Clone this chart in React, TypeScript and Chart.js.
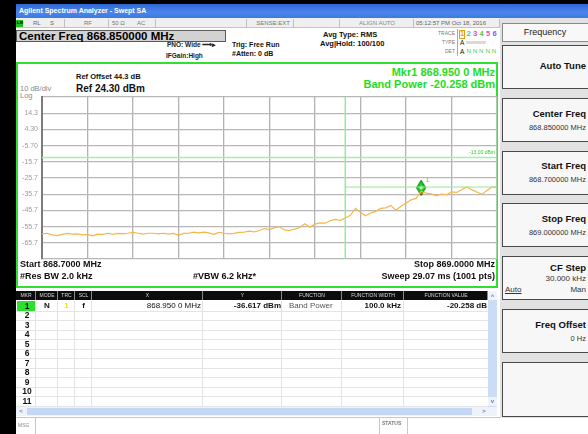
import React, { useEffect, useRef } from 'react';
import { Chart, registerables } from 'chart.js';

Chart.register(...registerables);

const FONT = '"Liberation Sans", Arial, Helvetica, sans-serif';

// Sweep settings
const startMHz = 868.7;
const stopMHz = 869.0;
const gridDivisions = 10;

// Amplitude axis (10 dB/div, Ref 24.30 dBm)
const refLevelDbm = 24.3;
const bottomLevelDbm = -75.7;
const yTickValues = [24.3, 14.3, 4.3, -5.7, -15.7, -25.7, -35.7, -45.7, -55.7, -65.7, -75.7];
const yTickLabels = ['', '14.3', '4.30', '-5.70', '-15.7', '-25.7', '-35.7', '-45.7', '-55.7', '-65.7', ''];

// Trace 1 (RMS average), equally spaced sweep points from start to stop
const traceDbm = [
  -60.2, -59.8, -60.8, -61.3, -60.5, -59.9, -60.4, -60.2, -60.8, -60.5,
  -61.4, -60.4, -60.5, -59.8, -60.5, -59.9, -60.2, -59.8, -59.3, -59.8,
  -60.4, -59.8, -59.8, -60.2, -59.8, -60.4, -59.9, -61.0, -59.9, -59.8,
  -59.1, -59.6, -59.1, -59.6, -60.5, -59.3, -59.8, -60.2, -59.9, -59.3,
  -59.1, -58.5, -59.0, -58.1, -56.9, -57.5, -56.3, -55.8, -57.9, -58.1,
  -57.3, -56.3, -54.0, -56.1, -54.2, -53.4, -53.6, -52.1, -51.2, -51.8,
  -50.4, -48.7, -44.4, -46.9, -49.0, -47.3, -46.3, -44.4, -44.1, -42.6,
  -45.6, -43.2, -41.3, -39.2, -38.3, -34.0, -35.0, -35.5, -36.7, -35.6,
  -36.0, -34.3, -34.6, -32.9, -31.2, -32.9, -34.3, -35.8, -33.4, -31.3,
  -31.3,
];

// Display line
const displayLineDbm = -13.0;
const displayLineLabel = '-13.00 dBm';

// Marker 1, band power function
const markerFreqMHz = 868.95;
const markerDbm = -36.617;
const markerLabel = '1';
const bandWidthKHz = 100;
const bandLevelDbm = -31.3;

// Marker table
const tableHeaders = ['MKR', 'MODE', 'TRC', 'SCL', 'X', 'Y', 'FUNCTION', 'FUNCTION WIDTH', 'FUNCTION VALUE'];
const markerNumbers = ['1', '2', '3', '4', '5', '6', '7', '8', '9', '10', '11'];

// Softkeys
const softkeys = [
  { label: 'Auto Tune', value: '' },
  { label: 'Center Freq', value: '868.850000 MHz' },
  { label: 'Start Freq', value: '868.700000 MHz' },
  { label: 'Stop Freq', value: '869.000000 MHz' },
  { label: 'CF Step', value: '30.000 kHz' },
  { label: 'Freq Offset', value: '0 Hz' },
  { label: '', value: '' },
];

const traceColors = ['#f0a000', '#2fc3ec', '#e040e0', '#3fcf3f', '#e050c8', '#7c5cf2'];

type TProps = {
  x: number;
  y: number;
  s: number;
  b?: boolean;
  c?: string;
  align?: 'left' | 'right' | 'center';
  children?: React.ReactNode;
  extra?: React.CSSProperties;
};

function T({ x, y, s, b, c, align = 'left', children, extra }: TProps) {
  const style: React.CSSProperties = {
    position: 'absolute',
    top: y - s * 0.55,
    fontSize: s,
    lineHeight: `${s * 1.1}px`,
    fontWeight: b ? 'bold' : 'normal',
    color: c || '#000',
    whiteSpace: 'nowrap',
    fontFamily: FONT,
    ...extra,
  };
  if (align === 'right') style.right = 588 - x;
  else if (align === 'center') {
    style.left = x;
    style.transform = 'translateX(-50%)';
  } else style.left = x;
  return <div style={style}>{children}</div>;
}

function Box({ x, y, w, h, style }: { x: number; y: number; w: number; h: number; style?: React.CSSProperties }) {
  return <div style={{ position: 'absolute', left: x, top: y, width: w, height: h, boxSizing: 'border-box', ...style }} />;
}

function makeDiamond(): HTMLCanvasElement {
  const c = document.createElement('canvas');
  c.width = 10;
  c.height = 32;
  const g = c.getContext('2d')!;
  g.beginPath();
  g.moveTo(5, 0.5);
  g.lineTo(9.5, 8);
  g.lineTo(5, 15.8);
  g.lineTo(0.5, 8);
  g.closePath();
  g.fillStyle = '#22cc22';
  g.fill();
  g.lineWidth = 1;
  g.strokeStyle = '#0d6e0d';
  g.stroke();
  g.beginPath();
  g.arc(5, 8, 1.6, 0, Math.PI * 2);
  g.fillStyle = '#ffffff';
  g.fill();
  return c;
}

function SpectrumPlot() {
  const ref = useRef<HTMLCanvasElement | null>(null);

  useEffect(() => {
    if (!ref.current) return;
    const step = (stopMHz - startMHz) / (traceDbm.length - 1);
    const traceData = traceDbm.map((v, i) => ({ x: startMHz + i * step, y: v }));
    const bandStart = markerFreqMHz - bandWidthKHz / 2000;
    const bandStop = markerFreqMHz + bandWidthKHz / 2000;
    const xGrid = Array.from({ length: gridDivisions + 1 }, (_, i) => ({
      value: startMHz + (i * (stopMHz - startMHz)) / gridDivisions,
    }));

    const labelFor = (v: number) => {
      const idx = yTickValues.findIndex((t) => Math.abs(t - v) < 1e-6);
      return idx >= 0 ? yTickLabels[idx] : '';
    };

    const overlayText = {
      id: 'overlayText',
      afterDatasetsDraw(chart: any) {
        const { ctx, scales, chartArea } = chart;
        const xs = scales.x;
        const ys = scales.y;
        ctx.save();
        ctx.font = `8px ${FONT}`;
        ctx.fillStyle = '#f0a020';
        ctx.textAlign = 'left';
        ctx.textBaseline = 'middle';
        ctx.fillText(markerLabel, xs.getPixelForValue(markerFreqMHz) + 4, ys.getPixelForValue(markerDbm) - 16);
        ctx.font = `5px ${FONT}`;
        ctx.fillStyle = '#33cc33';
        ctx.textAlign = 'right';
        ctx.textBaseline = 'bottom';
        ctx.fillText(displayLineLabel, chartArea.right - 2, ys.getPixelForValue(displayLineDbm) - 2);
        ctx.restore();
      },
    };

    const green = '#8eeb8e';
    const chart = new Chart(ref.current, {
      type: 'line',
      data: {
        datasets: [
          { label: 'Band left', data: [{ x: bandStart, y: refLevelDbm }, { x: bandStart, y: bottomLevelDbm }], borderColor: green, borderWidth: 1, pointRadius: 0 },
          { label: 'Band right', data: [{ x: bandStop, y: refLevelDbm }, { x: bandStop, y: bottomLevelDbm }], borderColor: green, borderWidth: 1.2, pointRadius: 0 },
          { label: 'Band level', data: [{ x: bandStart, y: bandLevelDbm }, { x: bandStop, y: bandLevelDbm }], borderColor: green, borderWidth: 1, pointRadius: 0 },
          { label: 'Display line', data: [{ x: startMHz, y: displayLineDbm }, { x: stopMHz, y: displayLineDbm }], borderColor: '#a4f0a4', borderWidth: 1.6, pointRadius: 0 },
          { label: 'Trace 1', data: traceData, borderColor: '#f7b548', borderWidth: 1.2, pointRadius: 0, tension: 0 },
          { label: 'Marker 1', data: [{ x: markerFreqMHz, y: markerDbm }], showLine: false, pointStyle: makeDiamond() as any, pointRadius: 8 },
        ],
      },
      options: {
        animation: false,
        responsive: false,
        devicePixelRatio: 1,
        events: [],
        layout: { padding: { top: 7, right: 2, bottom: 2, left: 0 } },
        plugins: { legend: { display: false }, tooltip: { enabled: false } },
        scales: {
          x: {
            type: 'linear',
            min: startMHz,
            max: stopMHz,
            afterBuildTicks: (axis: any) => {
              axis.ticks = xGrid;
            },
            afterFit: (axis: any) => {
              axis.height = 0;
            },
            ticks: { display: false },
            grid: { color: '#b3b3b3', lineWidth: 1.3, drawTicks: false },
            border: { display: false },
          },
          y: {
            type: 'linear',
            min: bottomLevelDbm,
            max: refLevelDbm,
            afterBuildTicks: (axis: any) => {
              axis.ticks = yTickValues.map((v) => ({ value: v }));
            },
            afterFit: (axis: any) => {
              axis.width = 26;
            },
            ticks: {
              callback: (v: any) => labelFor(Number(v)),
              color: '#9c9c9c',
              font: { size: 7, family: FONT },
              padding: 4,
              autoSkip: false,
            },
            grid: { color: '#b8b8b8', lineWidth: 1.3, drawTicks: false },
            border: { color: '#7c7c7c', width: 2 },
          },
        },
      },
      plugins: [overlayText],
    });
    return () => chart.destroy();
  }, []);

  return (
    <canvas
      ref={ref}
      width={490}
      height={180}
      style={{ position: 'absolute', left: 16, top: 87.5, width: 490, height: 180 }}
    />
  );
}

export default function App() {
  const colEdges = [16, 36, 58, 75, 92, 203, 282, 342, 404, 488];
  const rowTop = 301;
  const rowH = 9.5;

  return (
    <div
      style={{
        position: 'fixed',
        left: 0,
        top: 0,
        width: 588,
        height: 434,
        overflow: 'hidden',
        background: '#ffffff',
        fontFamily: FONT,
      }}
    >
      {/* frame */}
      <Box x={0} y={0} w={588} h={4} style={{ background: '#000' }} />
      <Box x={0} y={0} w={16} h={434} style={{ background: '#000' }} />

      {/* title bar */}
      <Box x={16} y={4} w={572} h={14} style={{ background: 'linear-gradient(#2f68d6, #4a86ea 60%, #3d79e0)' }} />
      <T x={19} y={11} s={7} b c="#ffffff">Agilent Spectrum Analyzer - Swept SA</T>

      {/* status row */}
      <Box x={16} y={18} w={484} h={10} style={{ background: '#efefef', borderBottom: '1px solid #c4c4c4' }} />
      <Box x={16} y={20} w={7} h={7} style={{ background: '#1fbf1f' }} />
      <T x={17} y={23.5} s={4} b c="#000">LXI</T>
      <T x={33} y={23.5} s={6} c="#666">RL</T>
      <T x={50} y={23.5} s={6} c="#666">S</T>
      {[64, 108, 155, 246, 293, 339, 413, 499].map((x) => (
        <Box key={x} x={x} y={19} w={1} h={9} style={{ background: '#c0c0c0' }} />
      ))}
      <T x={84} y={23.5} s={6} c="#777">RF</T>
      <T x={112} y={23.5} s={6} c="#777">50 Ω</T>
      <T x={137} y={23.5} s={6} c="#777">AC</T>
      <T x={290} y={23.5} s={6} c="#777" align="right">SENSE:EXT</T>
      <T x={377} y={23.5} s={6} c="#888" align="center">ALIGN AUTO</T>
      <T x={416} y={23.5} s={6} c="#666">05:12:57 PM Oct 18, 2016</T>

      {/* center frequency box */}
      <Box x={16} y={30} w={210} h={12} style={{ background: '#d2d2d2', border: '1px solid #5a5a5a' }} />
      <T x={19} y={36} s={11.5} b>Center Freq 868.850000 MHz</T>

      <T x={167} y={45} s={6.5} b c="#222">PNO: Wide ⟶▸</T>
      <T x={166} y={56} s={6.5} b c="#222">IFGain:High</T>
      <T x={232} y={44.5} s={7} b c="#111">Trig: Free Run</T>
      <T x={232} y={54} s={7} b c="#111">#Atten: 0 dB</T>
      <T x={323} y={35} s={7.5} b c="#111">Avg Type: RMS</T>
      <T x={320} y={44.5} s={7.5} b c="#111">Avg|Hold: 100/100</T>

      {/* trace status block */}
      <T x={455} y={34} s={5} c="#777" align="right">TRACE</T>
      <T x={455} y={43} s={5} c="#777" align="right">TYPE</T>
      <T x={455} y={51.5} s={5} c="#777" align="right">DET</T>
      <Box x={457} y={29} w={1} h={27} style={{ background: '#aaa' }} />
      <Box x={459} y={30} w={6} h={9} style={{ border: '1px solid #f0a000' }} />
      {traceColors.map((c, i) => (
        <T key={i} x={460 + i * 6.5} y={34.5} s={7.5} b c={c}>{String(i + 1)}</T>
      ))}
      <T x={460} y={43} s={6.5} c="#111">A</T>
      <T x={466} y={43} s={4.2} c="#999">WWWWW</T>
      <T x={460} y={51.5} s={6.5} c="#111">A</T>
      {[0, 1, 2, 3, 4].map((i) => (
        <T key={i} x={466.5 + i * 6.3} y={51.5} s={6} c="#3cc83c">N</T>
      ))}

      {/* plot panel */}
      <Box x={16} y={62} w={482} h={226} style={{ border: '2px solid #2fe02f', background: '#ffffff' }} />
      <T x={76} y={77} s={7.5} b c="#111">Ref Offset 44.3 dB</T>
      <T x={76} y={88} s={10} b c="#111">Ref 24.30 dBm</T>
      <T x={20} y={89} s={7.5} c="#8a8a8a">10 dB/div</T>
      <T x={20} y={96} s={7.5} c="#8a8a8a">Log</T>
      <T x={495} y={72} s={11} b c="#22dd22" align="right">Mkr1 868.950 0 MHz</T>
      <T x={495} y={84} s={11} b c="#22dd22" align="right">Band Power -20.258 dBm</T>

      <SpectrumPlot />

      <T x={20} y={265} s={9} b c="#111">Start 868.7000 MHz</T>
      <T x={20} y={277} s={9} b c="#111">#Res BW 2.0 kHz</T>
      <T x={193} y={277} s={9} b c="#111">#VBW 6.2 kHz*</T>
      <T x={495} y={265} s={9} b c="#111" align="right">Stop 869.0000 MHz</T>
      <T x={495} y={277} s={9} b c="#111" align="right">Sweep  29.07 ms (1001 pts)</T>

      {/* marker table */}
      <Box x={16} y={291} w={472} h={9} style={{ background: '#0c0c0c' }} />
      {tableHeaders.map((h, i) => (
        <React.Fragment key={h}>
          <Box x={colEdges[i + 1] - 1} y={291} w={1} h={9} style={{ background: '#8a8a8a' }} />
          <T x={(colEdges[i] + colEdges[i + 1]) / 2} y={295.5} s={5} c="#d8d8d8" align="center">{h}</T>
        </React.Fragment>
      ))}
      {markerNumbers.map((n, r) => (
        <React.Fragment key={n}>
          <Box x={16} y={rowTop + (r + 1) * rowH} w={472} h={1} style={{ background: '#e4e4e4' }} />
          {r === 0 && <Box x={17} y={rowTop} w={19} h={rowH} style={{ background: '#2de02d' }} />}
          <T x={27} y={rowTop + r * rowH + 5.5} s={8.5} b c="#111" align="center">{n}</T>
        </React.Fragment>
      ))}
      {colEdges.slice(1, -1).map((x) => (
        <Box key={x} x={x - 1} y={rowTop} w={1} h={rowH * 11} style={{ background: '#e2e2e2' }} />
      ))}
      <T x={47} y={rowTop + 5.5} s={8} b c="#111" align="center">N</T>
      <T x={66.5} y={rowTop + 5.5} s={8} b c="#e6e600" align="center">1</T>
      <T x={83.5} y={rowTop + 5.5} s={8} b c="#111" align="center">f</T>
      <T x={201} y={rowTop + 5.5} s={8} c="#111" align="right">868.950 0 MHz</T>
      <T x={281} y={rowTop + 5.5} s={8} b c="#111" align="right">-36.617 dBm</T>
      <T x={289} y={rowTop + 5.5} s={8} c="#555">Band Power</T>
      <T x={401} y={rowTop + 5.5} s={8} b c="#111" align="right">100.0 kHz</T>
      <T x={487} y={rowTop + 5.5} s={8} b c="#111" align="right">-20.258 dB</T>

      {/* scroll bars */}
      <Box x={488} y={291} w={9} h={116} style={{ background: '#cddcf5' }} />
      <Box x={488} y={291} w={9} h={9} style={{ background: '#eef3fb' }} />
      <Box x={488} y={397} w={9} h={9} style={{ background: '#eef3fb' }} />
      <T x={492.5} y={296} s={6} b c="#6a7fa8" align="center">^</T>
      <T x={492.5} y={401} s={6} b c="#6a7fa8" align="center">v</T>
      <Box x={16} y={407} w={481} h={9} style={{ background: '#eef3fb' }} />
      <Box x={27} y={408} w={445} h={7} style={{ background: '#c5d7f4' }} />
      <T x={21} y={411.5} s={6} b c="#6a7fa8" align="center">&lt;</T>
      <T x={484} y={411.5} s={6} b c="#6a7fa8" align="center">&gt;</T>

      {/* message / status row */}
      <Box x={16} y={417} w={572} h={17} style={{ background: '#ffffff', borderTop: '1px solid #c8c8c8' }} />
      <Box x={35} y={418} w={1} h={16} style={{ background: '#c8c8c8' }} />
      <Box x={379} y={418} w={1} h={16} style={{ background: '#c8c8c8' }} />
      <Box x={407} y={418} w={1} h={16} style={{ background: '#c8c8c8' }} />
      <T x={18} y={426} s={5} c="#888">MSG</T>
      <T x={382} y={424} s={5} b c="#777">STATUS</T>

      {/* softkey panel */}
      <Box x={500} y={18} w={88} h={400} style={{ background: '#e2e2e2' }} />
      <Box x={502} y={23} w={86} h={19} style={{ background: '#f8f8f8', border: '1px solid #8a8a8a', borderRight: 'none' }} />
      <T x={545} y={32.5} s={9} c="#222" align="center">Frequency</T>
      {softkeys.map((k, i) => {
        const top = 45 + i * 52.8;
        const h = i === softkeys.length - 1 ? 55 : 44;
        const hasValue = k.value !== '';
        const isStep = i === 4;
        return (
          <React.Fragment key={i}>
            <Box x={502} y={top} w={86} h={h} style={{ background: '#f7f7f7', border: '1px solid #4a4a4a', borderRight: 'none' }} />
            {k.label && (
              <T x={586} y={top + (isStep ? 12 : hasValue ? 16 : 21)} s={9.5} b c="#111" align="right">{k.label}</T>
            )}
            {hasValue && (
              <T x={586} y={top + (isStep ? 23 : 30)} s={isStep ? 8 : 7.5} c="#333" align="right">{k.value}</T>
            )}
            {isStep && (
              <>
                <T x={505} y={top + 34} s={8} c="#333" extra={{ textDecoration: 'underline' }}>Auto</T>
                <T x={586} y={top + 34} s={8} c="#333" align="right">Man</T>
              </>
            )}
          </React.Fragment>
        );
      })}
    </div>
  );
}
